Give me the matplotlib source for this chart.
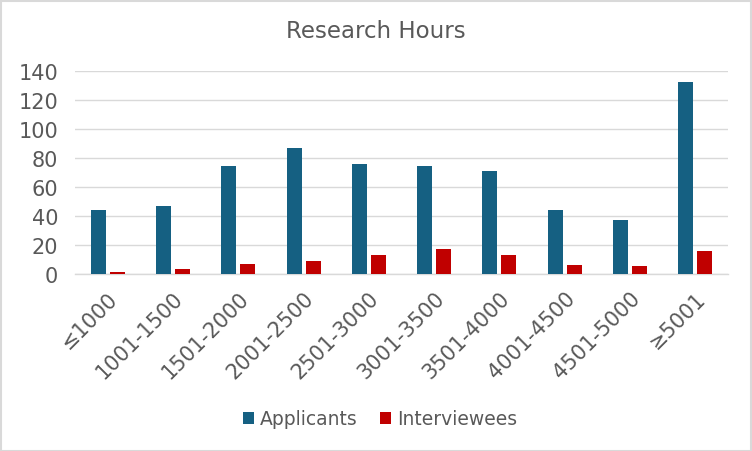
import numpy as np
import matplotlib.pyplot as plt
from matplotlib.patches import Rectangle

plt.rcParams['font.family'] = ['DejaVu Sans']

categories = ['≤1000', '1001-1500', '1501-2000', '2001-2500', '2501-3000',
              '3001-3500', '3501-4000', '4001-4500', '4501-5000', '≥5001']
applicants = [44, 47, 74, 87, 76, 74, 71, 44, 37, 132]
interviewees = [1, 3, 7, 9, 13, 17, 13, 6, 5, 16]

blue = '#156082'
red = '#c00000'
grey = '#595959'

fig = plt.figure(figsize=(7.52, 4.52), dpi=100)
ax = fig.add_axes([75 / 752, 1 - 274.7 / 452, 653 / 752, 203 / 452])

x = np.arange(len(categories))
w = 0.23
gap = 0.06
ax.bar(x - (w + gap) / 2, applicants, w, color=blue, label='Applicants', zorder=3)
ax.bar(x + (w + gap) / 2, interviewees, w, color=red, label='Interviewees', zorder=3)

ax.set_xlim(-0.5, len(categories) - 0.5)
ax.set_ylim(0, 140)
ax.set_yticks(range(0, 141, 20))
ax.yaxis.grid(True, color='#d9d9d9', linewidth=1.0, zorder=0)
ax.set_axisbelow(True)
for s in ['top', 'right', 'left']:
    ax.spines[s].set_visible(False)
ax.spines['bottom'].set_color('#d9d9d9')
ax.spines['bottom'].set_linewidth(1.0)
ax.tick_params(axis='both', length=0, labelsize=15, colors=grey, pad=12)
ax.set_xticks(x)
ax.set_xticklabels(categories, rotation=45, ha='right', rotation_mode='anchor')
ax.tick_params(axis='x', pad=10)

fig.text(0.5, 1 - 32 / 452, 'Research Hours', ha='center', va='center',
         fontsize=16.5, color=grey)

fig.legend(loc='center', bbox_to_anchor=(0.505, 1 - 420 / 452), ncol=2, frameon=False,
           fontsize=13.5, labelcolor=grey, handlelength=0.6, handleheight=0.6,
           handletextpad=0.3, columnspacing=1.2)

fig.patches.append(Rectangle((0.5 / 752, 0.5 / 452), 750 / 752, 450 / 452,
                             transform=fig.transFigure, fill=False,
                             edgecolor='#d9d9d9', linewidth=1.5))

fig.savefig('out.png', dpi=100)
